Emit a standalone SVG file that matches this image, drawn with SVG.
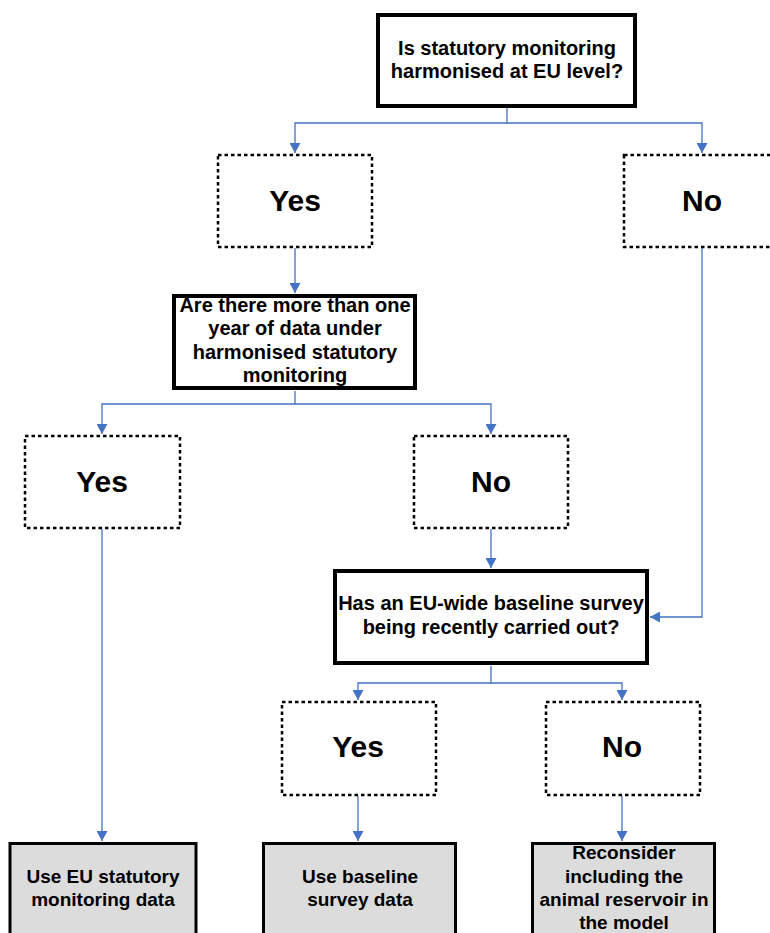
<svg xmlns="http://www.w3.org/2000/svg" width="770" height="933" viewBox="0 0 770 933">
<style>
.q{fill:#fff;stroke:#000;stroke-width:4}
.d{fill:#fff;stroke:#000;stroke-width:2.5;stroke-dasharray:3.5 3}
.f{fill:#dcdcdc;stroke:#000;stroke-width:3}
.t{font-family:"Liberation Sans",Arial,sans-serif;font-weight:bold;font-size:20px;text-anchor:middle;fill:#000}
.b{font-family:"Liberation Sans",Arial,sans-serif;font-weight:bold;font-size:30px;text-anchor:middle;fill:#000}
.s{font-family:"Liberation Sans",Arial,sans-serif;font-weight:bold;font-size:19px;text-anchor:middle;fill:#000}
.c{fill:none;stroke:#4472C4;stroke-width:1.3;marker-end:url(#a)}
</style>
<defs>
<marker id="a" markerUnits="userSpaceOnUse" markerWidth="11" markerHeight="11" refX="10" refY="5.5" orient="auto" viewBox="0 0 10 11">
<path d="M0,0 L10,5.5 L0,11 z" fill="#4472C4"/>
</marker>
</defs>
<g id="connectors">
<path class="c" d="M507,107 V123 H295 V153"/>
<path class="c" d="M507,123 H702 V153"/>
<path class="c" d="M295,248 V293"/>
<path class="c" d="M295,391 V404 H102 V434"/>
<path class="c" d="M295,404 H491 V434"/>
<path class="c" d="M491,529 V568"/>
<path class="c" d="M702,248 V617 H650"/>
<path class="c" d="M491,666 V683 H358 V700"/>
<path class="c" d="M491,683 H622 V700"/>
<path class="c" d="M102,529 V841"/>
<path class="c" d="M358,796 V841"/>
<path class="c" d="M622,796 V841"/>
</g>
<g id="q1">
<rect class="q" x="378" y="15" width="257" height="91"/>
<text class="t" x="507" y="55">Is statutory monitoring</text>
<text class="t" x="507" y="78">harmonised at EU level?</text>
</g>
<g id="yes1">
<rect class="d" x="218" y="155" width="154" height="92"/>
<text class="b" x="295" y="211">Yes</text>
</g>
<g id="no1">
<rect class="d" x="624" y="155" width="160" height="92"/>
<text class="b" x="702" y="211">No</text>
</g>
<g id="q2">
<rect class="q" x="174" y="296" width="241" height="92"/>
<text class="t" x="295" y="312">Are there more than one</text>
<text class="t" x="295" y="335">year of data under</text>
<text class="t" x="295" y="359">harmonised statutory</text>
<text class="t" x="295" y="382">monitoring</text>
</g>
<g id="yes2">
<rect class="d" x="25" y="436" width="155" height="92"/>
<text class="b" x="102" y="492">Yes</text>
</g>
<g id="no2">
<rect class="d" x="414" y="436" width="154" height="92"/>
<text class="b" x="491" y="492">No</text>
</g>
<g id="q3">
<rect class="q" x="335" y="571" width="312" height="92"/>
<text class="t" x="491" y="610">Has an EU-wide baseline survey</text>
<text class="t" x="491" y="634">being recently carried out?</text>
</g>
<g id="yes3">
<rect class="d" x="282" y="702" width="154" height="93"/>
<text class="b" x="358" y="757">Yes</text>
</g>
<g id="no3">
<rect class="d" x="546" y="702" width="154" height="93"/>
<text class="b" x="622" y="757">No</text>
</g>
<g id="r1">
<rect class="f" x="10" y="843.5" width="186" height="100"/>
<text class="s" x="103" y="883">Use EU statutory</text>
<text class="s" x="103" y="906">monitoring data</text>
</g>
<g id="r2">
<rect class="f" x="263.5" y="843.5" width="192" height="100"/>
<text class="s" x="360" y="883">Use baseline</text>
<text class="s" x="360" y="906">survey data</text>
</g>
<g id="r3">
<rect class="f" x="532.5" y="843.5" width="182" height="100"/>
<text class="s" x="624" y="859">Reconsider</text>
<text class="s" x="624" y="883">including the</text>
<text class="s" x="624" y="906">animal reservoir in</text>
<text class="s" x="624" y="929">the model</text>
</g>
</svg>
